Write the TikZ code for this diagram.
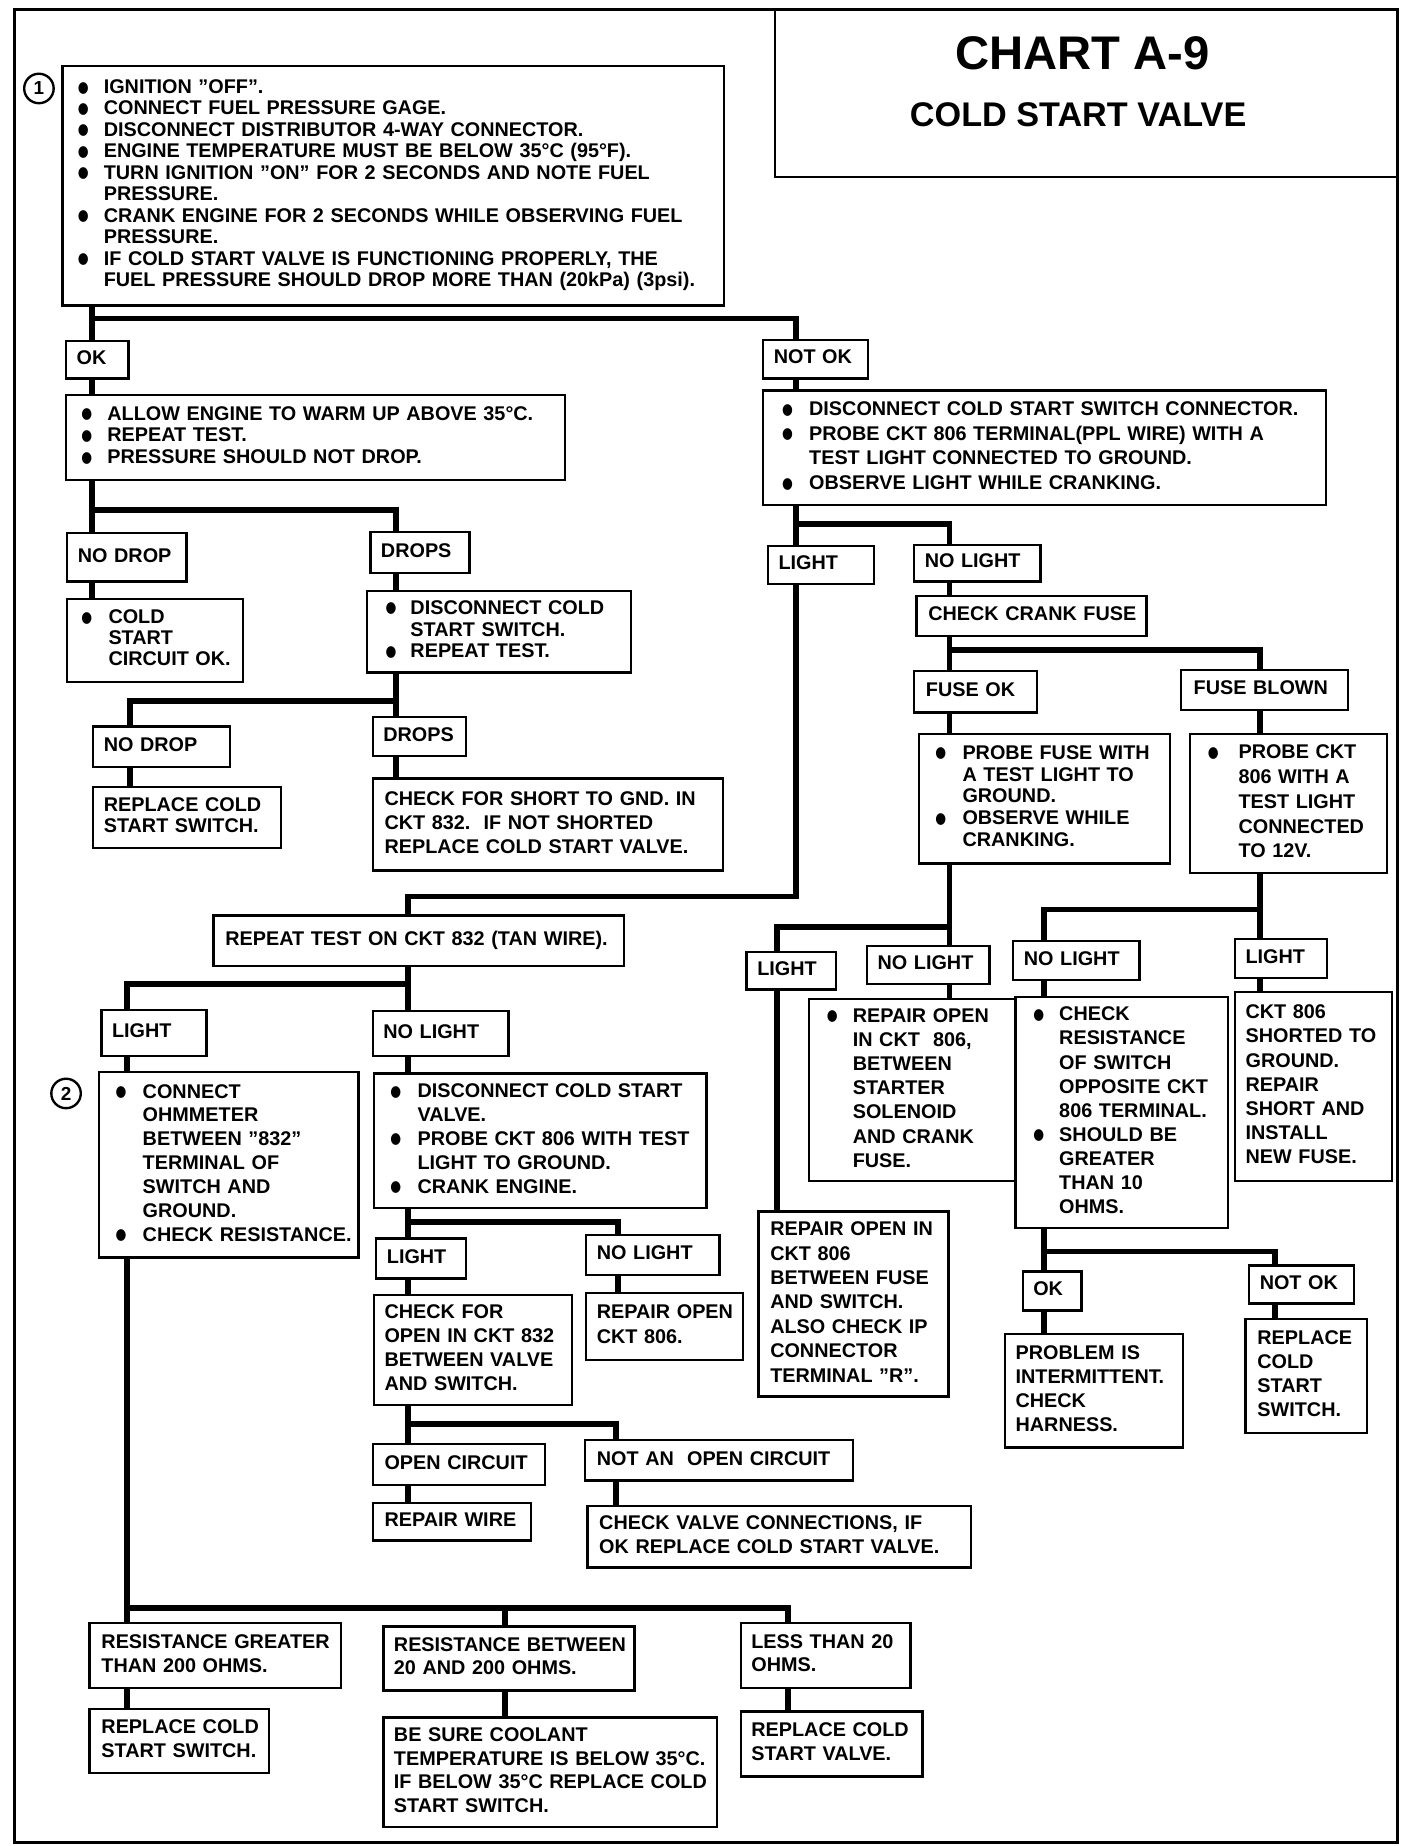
\documentclass[tikz,border=0pt]{standalone}
\usepackage{fontspec}
\setmainfont{Liberation Sans}
\newfontfamily\dvfont{DejaVu Sans}
\tikzset{
  box/.style={draw, line width=1pt, fill=white, inner sep=0pt, align=left,
              font=\bfseries\fontsize{8.4}{10}\selectfont},
  conn/.style={line width=2.5pt},
  numc/.style={circle, draw, line width=1pt, minimum size=12.5pt, inner sep=0pt,
               font=\bfseries\fontsize{8}{9}\selectfont}
}
\newcommand\B{\raisebox{0.6pt}{\scalebox{0.85}[1.05]{\dvfont\fontsize{6.2}{7}\selectfont ●}}}
\newcommand\PL[2]{\noindent{\fontsize{8.4}{#1}\selectfont\begin{tabular}{@{}l@{}}#2\end{tabular}}}
\newcommand\BL[3]{\noindent{\fontsize{8.4}{#1}\selectfont\begin{tabular}{@{}p{#2}@{}l@{}}#3\end{tabular}}}
\newcommand\bx[7]{%
  \pgfmathsetmacro\bxw{(#4-#2)*0.5}%
  \pgfmathsetmacro\bxh{(#5-#3)*0.5}%
  \pgfmathsetmacro\bxt{(#4-#2-2*#6)*0.5}%
  \node[box,minimum width=\bxw pt,minimum height=\bxh pt,text width=\bxt pt,anchor=north west] (#1) at (#2,#3) {#7};}
\begin{document}
\begin{tikzpicture}[x=0.5pt,y=-0.5pt]
\useasboundingbox (0,0) rectangle (1193,1565);
% frame and title
\draw[line width=1.3pt] (12,8) rectangle (1185,1562);
\draw[line width=1.1pt] (657,8) rectangle (1185,150);
\node[font=\bfseries\fontsize{20}{24}\selectfont] (t1) at (918,45) {CHART A-9};
\node[font=\bfseries\fontsize{14.5}{17}\selectfont] (t2) at (914,97) {COLD START VALVE};
\node[numc] (c1) at (33,75) {1};
\node[numc] (c2) at (56,927) {2};

% boxes
\bx{b1}{52}{55}{613}{258}{13}{\BL{9.1pt}{11pt}{%
\B & IGNITION "OFF".\\
\B & CONNECT FUEL PRESSURE GAGE.\\
\B & DISCONNECT DISTRIBUTOR 4-WAY CONNECTOR.\\
\B & ENGINE TEMPERATURE MUST BE BELOW 35°C (95°F).\\
\B & TURN IGNITION "ON" FOR 2 SECONDS AND NOTE FUEL\\
   & PRESSURE.\\
\B & CRANK ENGINE FOR 2 SECONDS WHILE OBSERVING FUEL\\
   & PRESSURE.\\
\B & IF COLD START VALVE IS FUNCTIONING PROPERLY, THE\\
   & FUEL PRESSURE SHOULD DROP MORE THAN (20kPa) (3psi).}}
\bx{ok1}{55}{288}{108}{320}{9}{\PL{10pt}{OK}}
\bx{allow}{55}{334}{478}{406}{13}{\BL{9.25pt}{11pt}{%
\B & ALLOW ENGINE TO WARM UP ABOVE 35°C.\\
\B & REPEAT TEST.\\
\B & PRESSURE SHOULD NOT DROP.}}
\bx{nodrop1}{56}{451}{157}{492}{9}{\PL{10pt}{NO DROP}}
\bx{drops1}{313}{450}{397}{485}{9}{\PL{10pt}{DROPS}}
\bx{coldok}{56}{507}{205}{577}{12}{\BL{9pt}{11.5pt}{%
\B & COLD\\ & START\\ & CIRCUIT OK.}}
\bx{disc1}{310}{500}{534}{569}{16}{\BL{9.25pt}{10.5pt}{%
\B & DISCONNECT COLD\\ & START SWITCH.\\ \B & REPEAT TEST.}}
\bx{nodrop2}{78}{615}{194}{649}{9}{\PL{10pt}{NO DROP}}
\bx{repsw1}{78}{666}{237}{718}{9}{\PL{9pt}{REPLACE COLD\\ START SWITCH.}}
\bx{drops2}{315}{607}{394}{640}{9}{\PL{10pt}{DROPS}}
\bx{short}{315}{659}{612}{737}{10}{\PL{10.25pt}{CHECK FOR SHORT TO GND. IN\\ CKT 832.\ \ IF NOT SHORTED\\ REPLACE COLD START VALVE.}}

\bx{notok1}{646}{287}{735}{320}{9}{\PL{10pt}{NOT OK}}
\bx{disc2}{646}{330}{1123}{427}{16}{\BL{10.5pt}{11.5pt}{%
\B & DISCONNECT COLD START SWITCH CONNECTOR.\\
\B & PROBE CKT 806 TERMINAL(PPL WIRE) WITH A\\
   & TEST LIGHT CONNECTED TO GROUND.\\
\B & OBSERVE LIGHT WHILE CRANKING.}}
\bx{light1}{650}{462}{740}{494}{9}{\PL{10pt}{LIGHT}}
\bx{nolight1}{774}{461}{881}{492}{9}{\PL{10pt}{NO LIGHT}}
\bx{crank}{776}{504}{971}{538}{10}{\PL{10pt}{CHECK CRANK FUSE}}
\bx{fuseok}{774}{568}{878}{603}{10}{\PL{10pt}{FUSE OK}}
\bx{fuseblown}{1000}{567}{1142}{601}{11}{\PL{10pt}{FUSE BLOWN}}
\bx{probefuse}{778}{621}{991}{731}{14}{\BL{9.25pt}{11.5pt}{%
\B & PROBE FUSE WITH\\ & A TEST LIGHT TO\\ & GROUND.\\ \B & OBSERVE WHILE\\ & CRANKING.}}
\bx{probeckt}{1008}{621}{1175}{739}{15}{\BL{10.5pt}{13pt}{%
\B & PROBE CKT\\ & 806 WITH A\\ & TEST LIGHT\\ & CONNECTED\\ & TO 12V.}}
\bx{light2}{632}{806}{708}{838}{9}{\PL{10pt}{LIGHT}}
\bx{nolight2}{734}{801}{838}{833}{9}{\PL{10pt}{NO LIGHT}}
\bx{repopen1}{685}{846}{863}{1000}{15}{\BL{10.25pt}{11pt}{%
\B & REPAIR OPEN\\ & IN CKT\ \ 806,\\ & BETWEEN\\ & STARTER\\ & SOLENOID\\ & AND CRANK\\ & FUSE.}}
\bx{repopen2}{642}{1026}{803}{1183}{10}{\PL{10.35pt}{REPAIR OPEN IN\\ CKT 806\\ BETWEEN FUSE\\ AND SWITCH.\\ ALSO CHECK IP\\ CONNECTOR\\ TERMINAL "R".}}
\bx{nolight3}{858}{797}{965}{830}{9}{\PL{10pt}{NO LIGHT}}
\bx{light3}{1046}{795}{1124}{828}{9}{\PL{10pt}{LIGHT}}
\bx{checkres}{860}{844}{1040}{1040}{15}{\BL{10.2pt}{11pt}{%
\B & CHECK\\ & RESISTANCE\\ & OF SWITCH\\ & OPPOSITE CKT\\ & 806 TERMINAL.\\
\B & SHOULD BE\\ & GREATER\\ & THAN 10\\ & OHMS.}}
\bx{shorted}{1046}{840}{1179}{1000}{9}{\PL{10.25pt}{CKT 806\\ SHORTED TO\\ GROUND.\\ REPAIR\\ SHORT AND\\ INSTALL\\ NEW FUSE.}}
\bx{ok2}{866}{1077}{916}{1110}{9}{\PL{10pt}{OK}}
\bx{notok2}{1058}{1072}{1147}{1104}{9}{\PL{10pt}{NOT OK}}
\bx{problem}{851}{1130}{1002}{1226}{9}{\PL{10.15pt}{PROBLEM IS\\ INTERMITTENT.\\ CHECK\\ HARNESS.}}
\bx{repsw2}{1055}{1117}{1158}{1214}{10}{\PL{10.15pt}{REPLACE\\ COLD\\ START\\ SWITCH.}}

\bx{repeat}{180}{775}{528}{818}{10}{\PL{10pt}{REPEAT TEST ON CKT 832 (TAN WIRE).}}
\bx{light4}{85}{855}{174}{894}{9}{\PL{10pt}{LIGHT}}
\bx{nolight4}{315}{856}{430}{894}{9}{\PL{10pt}{NO LIGHT}}
\bx{ohm}{83}{908}{303}{1065}{14}{\BL{10.1pt}{11.5pt}{%
\B & CONNECT\\ & OHMMETER\\ & BETWEEN "832"\\ & TERMINAL OF\\ & SWITCH AND\\ & GROUND.\\ \B & CHECK RESISTANCE.}}
\bx{disc3}{316}{909}{598}{1023}{14}{\BL{10.1pt}{11.5pt}{%
\B & DISCONNECT COLD START\\ & VALVE.\\ \B & PROBE CKT 806 WITH TEST\\ & LIGHT TO GROUND.\\ \B & CRANK ENGINE.}}
\bx{light5}{318}{1049}{394}{1083}{9}{\PL{10pt}{LIGHT}}
\bx{nolight5}{496}{1046}{609}{1080}{9}{\PL{10pt}{NO LIGHT}}
\bx{checkopen}{316}{1097}{484}{1190}{9}{\PL{10.15pt}{CHECK FOR\\ OPEN IN CKT 832\\ BETWEEN VALVE\\ AND SWITCH.}}
\bx{repopen3}{496}{1095}{629}{1152}{9}{\PL{10.5pt}{REPAIR OPEN\\ CKT 806.}}
\bx{opencirc}{315}{1223}{461}{1258}{10}{\PL{10pt}{OPEN CIRCUIT}}
\bx{notopen}{495}{1220}{722}{1254}{10}{\PL{10pt}{NOT AN\ \ OPEN CIRCUIT}}
\bx{repwire}{315}{1273}{449}{1305}{10}{\PL{10pt}{REPAIR WIRE}}
\bx{checkvalve}{497}{1276}{822}{1328}{10}{\PL{10pt}{CHECK VALVE CONNECTIONS, IF\\ OK REPLACE COLD START VALVE.}}
\bx{resgt}{75}{1375}{288}{1430}{10}{\PL{10pt}{RESISTANCE GREATER\\ THAN 200 OHMS.}}
\bx{repsw3}{75}{1448}{227}{1502}{10}{\PL{10pt}{REPLACE COLD\\ START SWITCH.}}
\bx{resbt}{324}{1378}{537}{1432}{9}{\PL{10pt}{RESISTANCE BETWEEN\\ 20 AND 200 OHMS.}}
\bx{besure}{324}{1455}{607}{1548}{9}{\PL{10pt}{BE SURE COOLANT\\ TEMPERATURE IS BELOW 35°C.\\ IF BELOW 35°C REPLACE COLD\\ START SWITCH.}}
\bx{lt20}{627}{1375}{771}{1430}{9}{\PL{9.5pt}{LESS THAN 20\\ OHMS.}}
\bx{repvalve}{627}{1450}{781}{1505}{9}{\PL{10pt}{REPLACE COLD\\ START VALVE.}}

% junction coordinates
\coordinate (j1) at (78,270);   \coordinate (j1r) at (675,270);
\coordinate (j2) at (78,432);   \coordinate (j2r) at (336,432);
\coordinate (j3) at (336,594);  \coordinate (j3l) at (110,594);
\coordinate (j4) at (675,444);  \coordinate (j4r) at (805,444);
\coordinate (k1) at (675,760);  \coordinate (k2) at (346,760);
\coordinate (j5) at (805,551);  \coordinate (j5r) at (1068,551);
\coordinate (j6) at (805,786);  \coordinate (j6l) at (659,786);
\coordinate (j7) at (1068,771); \coordinate (j7l) at (885,771);
\coordinate (j8) at (885,1061); \coordinate (j8r) at (1081,1061);
\coordinate (j9) at (346,834);  \coordinate (j9l) at (108,834);
\coordinate (j10) at (346,1036); \coordinate (j10r) at (524,1036);
\coordinate (j11) at (346,1207); \coordinate (j11r) at (522,1207);
\coordinate (j12) at (108,1363); \coordinate (j12m) at (428,1363); \coordinate (j12r) at (668,1363);

% connectors
\draw[conn] (b1.south -| j1) -- (ok1.north -| j1);
\draw[conn] (j1) -- (j1r) -- (notok1.north -| j1r);
\draw[conn] (ok1.south -| j1) -- (allow.north -| j1);
\draw[conn] (allow.south -| j2) -- (nodrop1.north -| j2);
\draw[conn] (j2) -- (j2r) -- (drops1.north -| j2r);
\draw[conn] (nodrop1.south -| j2) -- (coldok.north -| j2);
\draw[conn] (drops1.south -| j2r) -- (disc1.north -| j2r);
\draw[conn] (disc1.south -| j3) -- (drops2.north -| j3);
\draw[conn] (j3) -- (j3l) -- (nodrop2.north -| j3l);
\draw[conn] (nodrop2.south -| j3l) -- (repsw1.north -| j3l);
\draw[conn] (drops2.south -| j3) -- (short.north -| j3);

\draw[conn] (notok1.south -| j1r) -- (disc2.north -| j1r);
\draw[conn] (disc2.south -| j4) -- (light1.north -| j4);
\draw[conn] (j4) -- (j4r) -- (nolight1.north -| j4r);
\draw[conn] (nolight1.south -| j4r) -- (crank.north -| j4r);
\draw[conn] (light1.south -| k1) -- (k1) -- (k2) -- (repeat.north -| k2);
\draw[conn] (crank.south -| j5) -- (fuseok.north -| j5);
\draw[conn] (j5) -- (j5r) -- (fuseblown.north -| j5r);
\draw[conn] (fuseok.south -| j5) -- (probefuse.north -| j5);
\draw[conn] (fuseblown.south -| j5r) -- (probeckt.north -| j5r);
\draw[conn] (probefuse.south -| j6) -- (nolight2.north -| j6);
\draw[conn] (j6) -- (j6l) -- (light2.north -| j6l);
\draw[conn] (nolight2.south -| j6) -- (repopen1.north -| j6);
\draw[conn] (light2.south -| j6l) -- (repopen2.north -| j6l);
\draw[conn] (probeckt.south -| j7) -- (light3.north -| j7);
\draw[conn] (j7) -- (j7l) -- (nolight3.north -| j7l);
\draw[conn] (light3.south -| j7) -- (shorted.north -| j7);
\draw[conn] (nolight3.south -| j7l) -- (checkres.north -| j7l);
\draw[conn] (checkres.south -| j8) -- (ok2.north -| j8);
\draw[conn] (j8) -- (j8r) -- (notok2.north -| j8r);
\draw[conn] (ok2.south -| j8) -- (problem.north -| j8);
\draw[conn] (notok2.south -| j8r) -- (repsw2.north -| j8r);

\draw[conn] (repeat.south -| j9) -- (nolight4.north -| j9);
\draw[conn] (j9) -- (j9l) -- (light4.north -| j9l);
\draw[conn] (light4.south -| j9l) -- (ohm.north -| j9l);
\draw[conn] (nolight4.south -| j9) -- (disc3.north -| j9);
\draw[conn] (disc3.south -| j10) -- (light5.north -| j10);
\draw[conn] (j10) -- (j10r) -- (nolight5.north -| j10r);
\draw[conn] (light5.south -| j10) -- (checkopen.north -| j10);
\draw[conn] (nolight5.south -| j10r) -- (repopen3.north -| j10r);
\draw[conn] (checkopen.south -| j11) -- (opencirc.north -| j11);
\draw[conn] (j11) -- (j11r) -- (notopen.north -| j11r);
\draw[conn] (opencirc.south -| j11) -- (repwire.north -| j11);
\draw[conn] (notopen.south -| j11r) -- (checkvalve.north -| j11r);
\draw[conn] (ohm.south -| j12) -- (resgt.north -| j12);
\draw[conn] (j12) -- (j12r) -- (lt20.north -| j12r);
\draw[conn] (j12m) -- (resbt.north -| j12m);
\draw[conn] (resgt.south -| j12) -- (repsw3.north -| j12);
\draw[conn] (resbt.south -| j12m) -- (besure.north -| j12m);
\draw[conn] (lt20.south -| j12r) -- (repvalve.north -| j12r);
\end{tikzpicture}
\end{document}
